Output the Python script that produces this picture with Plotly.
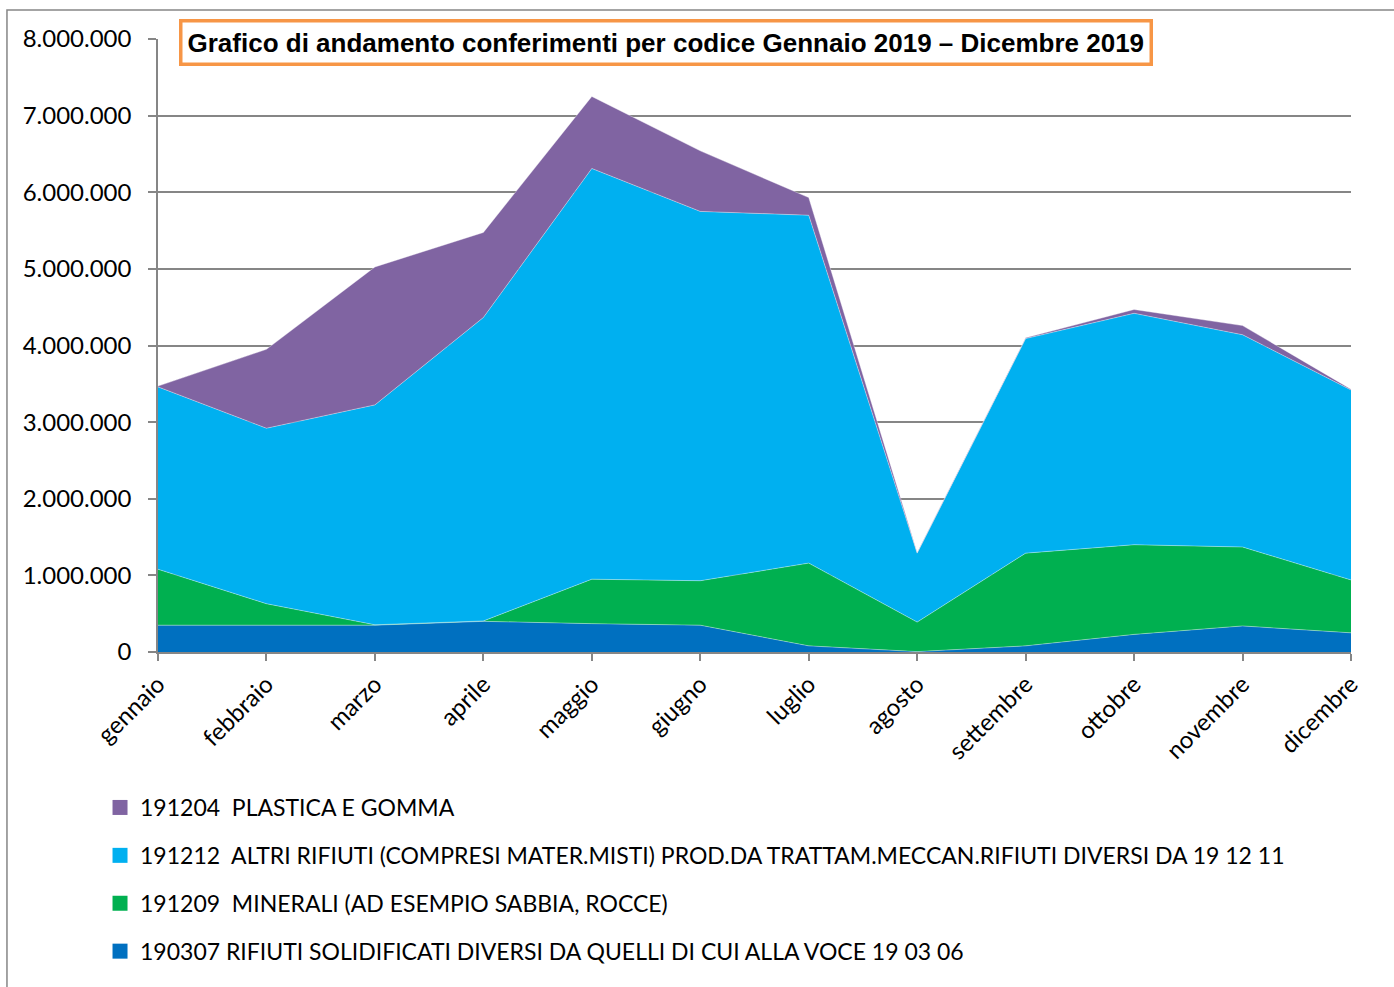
import plotly.graph_objects as go

months = ["gennaio", "febbraio", "marzo", "aprile", "maggio", "giugno",
          "luglio", "agosto", "settembre", "ottobre", "novembre", "dicembre"]

# values in kg
s190307 = [350000, 350000, 350000, 400000, 370000, 350000, 80000, 5000, 80000, 230000, 340000, 250000]
s191209 = [730000, 280000, 5000, 5000, 580000, 580000, 1080000, 385000, 1210000, 1170000, 1030000, 690000]
s191212 = [2380000, 2290000, 2870000, 3960000, 5360000, 4820000, 4540000, 900000, 2800000, 3020000, 2770000, 2480000]
s191204 = [10000, 1030000, 1800000, 1110000, 940000, 790000, 230000, 10000, 10000, 50000, 120000, 10000]

names = [
    "190307 RIFIUTI SOLIDIFICATI DIVERSI DA QUELLI DI CUI ALLA VOCE 19 03 06",
    "191209  MINERALI (AD ESEMPIO SABBIA, ROCCE)",
    "191212  ALTRI RIFIUTI (COMPRESI MATER.MISTI) PROD.DA TRATTAM.MECCAN.RIFIUTI DIVERSI DA 19 12 11",
    "191204  PLASTICA E GOMMA",
]
colors = ["#0070C0", "#00B050", "#00B0F0", "#8064A2"]
series = [s190307, s191209, s191212, s191204]

FONT = "Lato"

fig = go.Figure()
for nm, col, vals in zip(names, colors, series):
    fig.add_trace(go.Scatter(
        x=months, y=vals, name=nm, mode="lines", showlegend=False,
        stackgroup="one", line=dict(width=0.6, color="rgba(255,255,255,0.6)"),
        fillcolor=col,
    ))

# legend entries (square swatches), top to bottom
for i, (nm, col) in enumerate(zip(names[::-1], colors[::-1])):
    fig.add_trace(go.Scatter(
        x=[None], y=[None], name=nm, mode="markers", legendgroup=f"g{i}",
        marker=dict(symbol="square", size=15, color=col),
    ))

fig.update_layout(
    width=1394, height=987,
    margin=dict(l=158, r=43, t=39, b=335),
    paper_bgcolor="white", plot_bgcolor="white",
    separators=",.",
    font=dict(family=FONT, size=24, color="black"),
    showlegend=True,
    legend=dict(
        traceorder="grouped", orientation="v",
        x=-0.0486, xanchor="left", y=-0.2186, yanchor="top",
        font=dict(family=FONT, size=23, color="black"),
        tracegroupgap=15,
        bgcolor="rgba(0,0,0,0)",
    ),
    xaxis=dict(
        type="category", range=[0, 11], showgrid=False,
        showline=True, linecolor="#868686", linewidth=1.5,
        ticks="outside", ticklen=7, tickcolor="#868686", tickwidth=1.5,
        tickangle=-45, tickfont=dict(family=FONT, size=24, color="black"),
        fixedrange=True,
    ),
    yaxis=dict(
        range=[0, 8000000], dtick=1000000, tickformat=",d",
        showgrid=True, gridcolor="#868686", gridwidth=2,
        showline=True, linecolor="#868686", linewidth=1.5,
        ticks="outside", ticklen=8, tickcolor="#868686", tickwidth=1.5,
        tickfont=dict(family=FONT, size=24, color="black"),
        ticklabelstandoff=12,
        zeroline=False,
    ),
)

# outer chart frame
fig.add_shape(type="rect", xref="paper", yref="paper",
              x0=-0.1266, x1=1.2, y0=-0.7, y1=1.0473,
              line=dict(color="#868686", width=1.5), fillcolor="rgba(0,0,0,0)",
              layer="below")

fig.add_annotation(
    text="<b>Grafico di andamento conferimenti per codice Gennaio 2019 – Dicembre 2019</b>",
    xref="paper", yref="paper", x=0.4262, y=0.9935, xanchor="center", yanchor="middle",
    showarrow=False, font=dict(family="Liberation Sans", size=26, color="black"),
    bgcolor="white", bordercolor="#F79646", borderwidth=3.5, borderpad=5,
)

fig.write_html("out.html", config={"displayModeBar": False},
               post_script="document.body.style.margin='0';")
